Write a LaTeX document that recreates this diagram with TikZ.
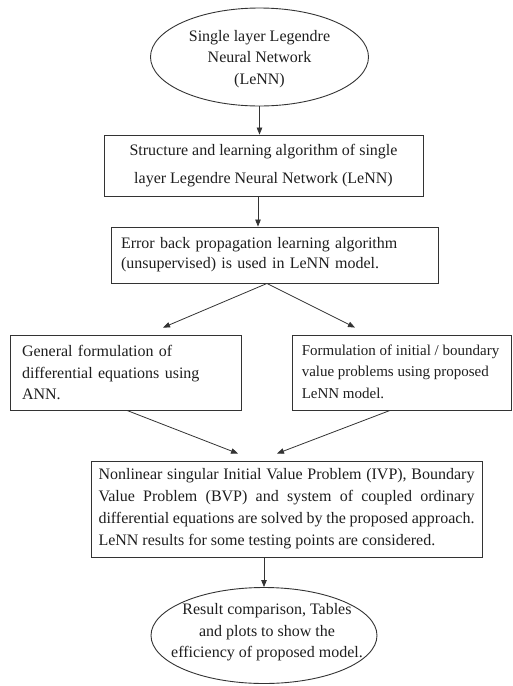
\documentclass[tikz,border=0pt]{standalone}
\usepackage{fontspec}
\setmainfont{Liberation Serif}
\usetikzlibrary{shapes.geometric,arrows.meta}
\definecolor{ink}{HTML}{1E1E1E}
\definecolor{edge}{HTML}{333333}
\tikzset{
  every node/.style={text=ink},
  frame/.style={draw=edge, line width=0.9pt, rectangle, inner ysep=0pt},
  oval/.style={draw=edge, line width=0.9pt, ellipse, inner sep=0pt},
  flow/.style={draw=edge, line width=0.8pt, -{Triangle[length=7pt,width=5.5pt]}},
  txt/.style={font=\fontsize{16}{21.5}\selectfont},
}
\begin{document}
\begin{tikzpicture}[x=1pt,y=-1pt]
\useasboundingbox (0,0) rectangle (513,686);

% start: the network
\node[oval, minimum width=218pt, minimum height=98pt] (e1) at (259.5,57) {};
\node[txt, align=center, inner sep=0pt] (t1) at ([yshift=-2pt]e1.center)
  {Single layer Legendre\\Neural Network\\(LeNN)};

% structure and learning
\node[frame, minimum width=319pt, minimum height=61pt, align=center,
      font=\fontsize{16}{28}\selectfont] (b2) at (263.5,165.5)
  {Structure and learning algorithm of single\\layer Legendre Neural Network (LeNN)};

\node[frame, txt, minimum height=56pt, text width=307pt, inner xsep=10pt, align=left,
      font=\fontsize{16}{20}\selectfont] (b3) at (274.5,255)
  {Error back propagation learning algorithm\\(unsupervised) is used in LeNN model.};

% two formulation branches
\node[frame, txt, minimum height=75pt, text width=207pt, inner xsep=12pt, align=left] (b4) at (125.5,372.5)
  {General formulation of\\differential equations using\\ANN.};
\node[frame, minimum width=219pt, minimum height=75pt] (b5) at (401.5,372.5) {};
\node[align=left, anchor=west, inner sep=0pt, font=\fontsize{15}{21.5}\selectfont]
  (t5) at ([xshift=10pt,yshift=1pt]b5.west)
  {Formulation of initial / boundary\\value problems using proposed\\LeNN model.};

% solved problems
\node[frame, minimum height=96pt, text width=376pt, inner xsep=7.5pt, align=justify,
      font={\fontsize{16}{22}\selectfont\tolerance=9999}] (b6) at (286.5,509)
  {Nonlinear singular Initial Value Problem (IVP), Boundary\linebreak
   Value Problem (BVP) and system of coupled ordinary\linebreak
   differential equations are solved by the proposed approach.\linebreak
   LeNN results for some testing points are considered.};

% end: results
\node[oval, minimum width=226pt, minimum height=96pt] (e2) at (264,635.5) {};
\node[txt, align=center, inner sep=0pt] (t2) at ([xshift=3pt,yshift=3pt]e2.center)
  {Result comparison, Tables\\and plots to show the\\efficiency of proposed model.};

% connectors
\draw[flow] (e1.south) -- (e1.south |- b2.north);
\coordinate (a2) at ([xshift=-5.5pt]b2.south);
\draw[flow] (a2) -- (a2 |- b3.north);
\coordinate (a3) at ([xshift=-7.5pt]b3.south);
\draw[flow] (a3) -- ([xshift=37.5pt,yshift=7pt]b4.north);
\draw[flow] (a3) -- ([xshift=-46.5pt,yshift=7pt]b5.north);
\draw[flow] ([xshift=1.5pt]b4.south) -- ([xshift=-48.5pt,yshift=7pt]b6.north);
\draw[flow] ([xshift=-11.5pt]b5.south) -- ([xshift=-9.5pt,yshift=7pt]b6.north);
\draw[flow] (e2.north |- b6.south) -- (e2.north);
\end{tikzpicture}
\end{document}
